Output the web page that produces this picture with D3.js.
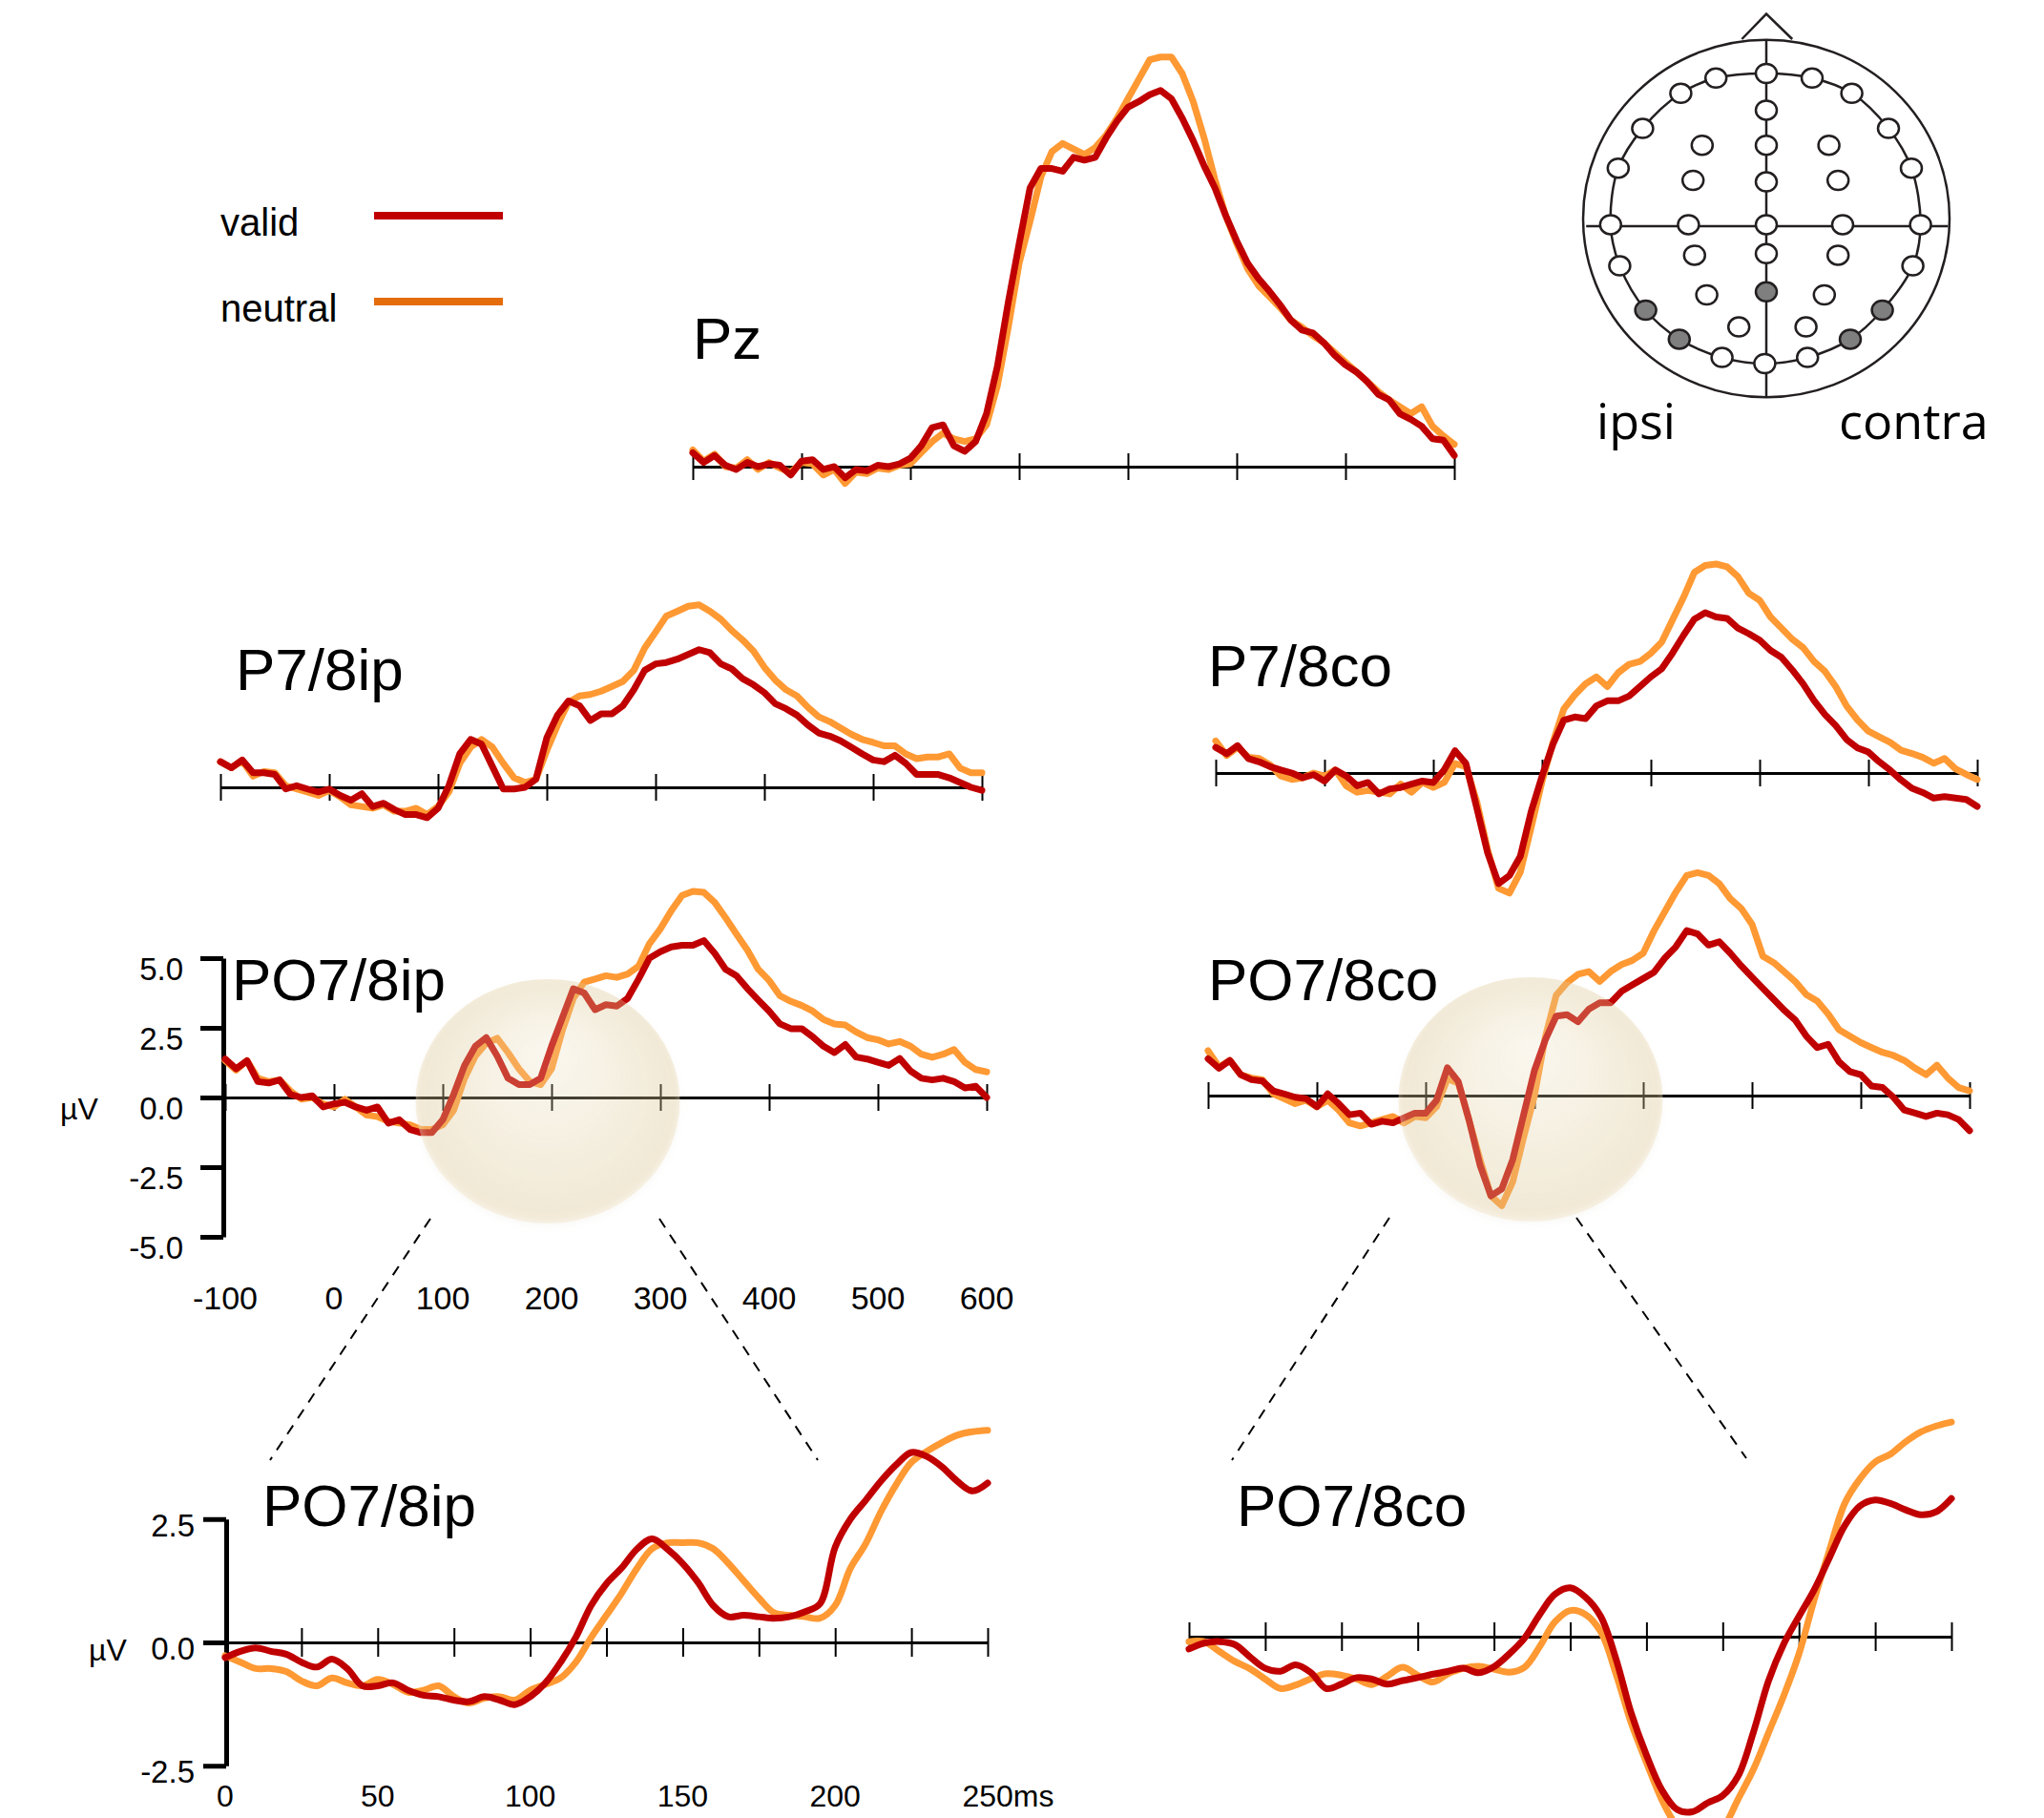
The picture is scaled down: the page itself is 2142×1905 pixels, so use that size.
<!DOCTYPE html>
<html>
<head>
<meta charset="utf-8">
<script src="https://cdn.jsdelivr.net/npm/d3@7"></script>
<style>
  html, body { margin: 0; padding: 0; background: #fff; }
  svg { display: block; font-family: 'Liberation Sans', Arial, Helvetica, sans-serif; }
</style>
</head>
<body>
<div id="chart"></div>
<script>
// sampling grids (ms)
const mainTimes = d3.range(-100, 601, 10);
const zoomTimes = d3.range(0, 251, 5);

const mainTicks = [-100, 0, 100, 200, 300, 400, 500, 600];
const mainTickLabels = ['-100', '0', '100', '200', '300', '400', '500', '600'];
const zoomTicks = [0, 25, 50, 75, 100, 125, 150, 175, 200, 225, 250];
const zoomLabelTicks = [0, 50, 100, 150, 200, 250];
const zoomTickLabels = ['0', '50', '100', '150', '200', '250ms'];
const mainYTicks = [5, 2.5, 0, -2.5, -5];
const mainYLabels = ['5.0', '2.5', '0.0', '-2.5', '-5.0'];
const zoomYTicks = [2.5, 0, -2.5];
const zoomYLabels = ['2.5', '0.0', '-2.5'];

const conditions = ['valid', 'neutral'];

// µV, -100..600 ms every 10 ms
const pzValid = [0.5, 0.15, 0.4, 0.05, -0.1, 0.15, 0, 0.1, 0.05, -0.3,
  0.2, 0.25, -0.1, 0, -0.4, -0.1, -0.15, 0.05, 0, 0.1,
  0.3, 0.75, 1.4, 1.5, 0.75, 0.55, 0.9, 1.9, 3.6, 5.9,
  8.0, 10.0, 10.7, 10.7, 10.6, 11.1, 11.0, 11.1, 11.8, 12.4,
  12.9, 13.1, 13.35, 13.5, 13.2, 12.5, 11.7, 10.8, 10.0, 9.0,
  8.1, 7.3, 6.75, 6.3, 5.8, 5.25, 4.9, 4.8, 4.45, 4.0,
  3.65, 3.4, 3.05, 2.6, 2.4, 1.9, 1.7, 1.45, 1.0, 0.95, 0.4];
const pzNeutral = [0.6, 0.2, 0.45, 0.0, -0.05, 0.25, -0.1, 0.15, -0.05, -0.2,
  0.15, 0.1, -0.3, -0.1, -0.6, -0.2, -0.25, -0.05, -0.1, 0.05,
  0.1, 0.5, 0.9, 1.2, 1.0, 0.9, 1.0, 1.5, 2.9, 5.0,
  7.3, 8.8, 10.4, 11.3, 11.6, 11.4, 11.2, 11.45, 11.9, 12.5,
  13.2, 13.9, 14.6, 14.7, 14.7, 14.1, 13.1, 11.8, 10.3, 9.0,
  8.0, 7.1, 6.5, 6.1, 5.7, 5.25, 5.0, 4.7, 4.45, 4.1,
  3.75, 3.4, 3.05, 2.7, 2.4, 2.15, 1.9, 2.15, 1.45, 1.1, 0.8];

const p7ipValid = [0.92, 0.7, 0.98, 0.52, 0.52, 0.46, -0.06, 0.06, -0.06, -0.17,
  -0.06, -0.29, -0.46, -0.23, -0.69, -0.57, -0.8, -0.98, -0.98, -1.09,
  -0.75, 0.06, 1.2, 1.72, 1.55, 0.75, -0.06, -0.06, 0, 0.29,
  1.78, 2.6, 3.1, 2.93, 2.4, 2.64, 2.64, 2.93, 3.5, 4.2,
  4.43, 4.48, 4.6, 4.77, 4.94, 4.83, 4.43, 4.25, 3.9, 3.68,
  3.4, 3.0, 2.82, 2.59, 2.24, 1.95, 1.84, 1.67, 1.44, 1.2,
  0.98, 0.92, 1.15, 0.86, 0.46, 0.46, 0.46, 0.34, 0.17, 0, -0.11];
const p7ipNeutral = [0.92, 0.7, 0.95, 0.4, 0.57, 0.52, 0.06, -0.06, -0.17, -0.29,
  -0.11, -0.34, -0.63, -0.69, -0.75, -0.63, -0.86, -0.86, -0.75, -0.98,
  -0.69, -0.17, 0.86, 1.44, 1.72, 1.44, 0.86, 0.34, 0.17, 0.29,
  1.32, 2.24, 3.05, 3.28, 3.33, 3.45, 3.62, 3.8, 4.2, 5.0,
  5.57, 6.15, 6.32, 6.5, 6.55, 6.32, 6.03, 5.63, 5.29, 4.89,
  4.31, 3.85, 3.5, 3.28, 2.87, 2.53, 2.36, 2.13, 1.9, 1.72,
  1.61, 1.49, 1.49, 1.2, 1.03, 1.09, 1.09, 1.2, 0.69, 0.52, 0.52];

const p7coValid = [0.92, 0.69, 0.98, 0.52, 0.4, 0.23, 0.11, 0, -0.17, -0.06,
  -0.29, 0.11, -0.11, -0.46, -0.34, -0.75, -0.57, -0.52, -0.4, -0.29,
  -0.34, 0.11, 0.8, 0.34, -1.26, -2.87, -3.97, -3.68, -2.99, -1.38,
  -0.11, 1.03, 1.9, 2.01, 1.95, 2.41, 2.59, 2.59, 2.76, 3.1,
  3.45, 3.74, 4.31, 4.94, 5.52, 5.75, 5.6, 5.55, 5.2, 5.0,
  4.77, 4.4, 4.15, 3.7, 3.2, 2.6, 2.1, 1.7, 1.2, 0.9,
  0.75, 0.4, 0.1, -0.25, -0.55, -0.7, -0.9, -0.85, -0.9, -0.95, -1.2];
const p7coNeutral = [1.15, 0.63, 0.92, 0.57, 0.52, 0.29, -0.11, -0.23, -0.17, 0,
  -0.11, 0.11, -0.46, -0.69, -0.63, -0.69, -0.75, -0.4, -0.69, -0.34,
  -0.52, -0.34, 0.34, 0.23, -1.03, -2.76, -4.14, -4.31, -3.56, -1.95,
  -0.3, 1.1, 2.3, 2.8, 3.2, 3.45, 3.1, 3.6, 3.9, 4.0,
  4.3, 4.7, 5.5, 6.3, 7.2, 7.45, 7.5, 7.4, 7.05, 6.45,
  6.2, 5.6, 5.2, 4.8, 4.5, 4.0, 3.65, 3.1, 2.4, 1.9,
  1.5, 1.3, 1.1, 0.82, 0.7, 0.56, 0.35, 0.52, 0.15, -0.05, -0.23];

const po7ipValid = [1.38, 1.03, 1.32, 0.57, 0.52, 0.63, 0.11, 0, 0.06, -0.34,
  -0.23, -0.17, -0.34, -0.46, -0.34, -0.92, -0.8, -1.15, -1.26, -1.26,
  -0.8, 0.11, 1.15, 1.84, 2.15, 1.49, 0.69, 0.46, 0.46, 0.69,
  1.84, 2.87, 3.9, 3.75, 3.15, 3.33, 3.28, 3.56, 4.25, 5.0,
  5.23, 5.4, 5.46, 5.46, 5.63, 5.17, 4.6, 4.37, 3.91, 3.5,
  3.1, 2.64, 2.47, 2.47, 2.18, 1.84, 1.61, 1.9, 1.45, 1.38,
  1.26, 1.15, 1.4, 0.95, 0.69, 0.63, 0.69, 0.57, 0.34, 0.4, 0];
const po7ipNeutral = [1.32, 0.98, 1.32, 0.69, 0.57, 0.63, 0.23, -0.06, 0, -0.23,
  -0.34, -0.06, -0.34, -0.63, -0.69, -0.86, -0.92, -0.98, -1.15, -1.15,
  -0.98, -0.46, 0.69, 1.49, 1.95, 2.13, 1.61, 1.03, 0.57, 0.46,
  1.03, 2.41, 3.56, 4.14, 4.25, 4.37, 4.31, 4.43, 4.71, 5.52,
  6.05, 6.7, 7.25, 7.4, 7.36, 7.0, 6.45, 5.86, 5.29, 4.6,
  4.2, 3.65, 3.45, 3.3, 3.1, 2.8, 2.64, 2.6, 2.35, 2.15,
  2.07, 1.92, 2.01, 1.84, 1.55, 1.44, 1.55, 1.72, 1.26, 1.0, 0.92];

const po7coValid = [1.32, 0.98, 1.26, 0.75, 0.57, 0.52, 0.17, 0.06, -0.06, -0.11,
  -0.4, 0.06, -0.29, -0.69, -0.63, -1.03, -0.92, -0.98, -0.8, -0.63,
  -0.63, -0.17, 1.0, 0.5, -0.9, -2.5, -3.6, -3.35, -2.3, -0.7,
  0.9, 2.0, 2.85, 2.9, 2.65, 3.1, 3.33, 3.33, 3.74, 3.97,
  4.2, 4.43, 4.94, 5.34, 5.92, 5.8, 5.4, 5.52, 5.11, 4.66,
  4.25, 3.85, 3.45, 3.05, 2.7, 2.13, 1.72, 1.84, 1.21, 0.86,
  0.75, 0.34, 0.29, -0.06, -0.52, -0.63, -0.75, -0.63, -0.69, -0.86, -1.26];
const po7coNeutral = [1.61, 1.03, 1.26, 0.75, 0.63, 0.57, 0.06, -0.11, -0.29, -0.17,
  -0.4, -0.17, -0.52, -0.98, -1.09, -0.98, -0.86, -0.75, -0.98, -0.75,
  -0.8, -0.4, 0.6, 0.45, -0.9, -2.3, -3.6, -3.95, -3.1, -1.5,
  0, 2.1, 3.6, 4.05, 4.35, 4.45, 4.1, 4.45, 4.7, 4.85,
  5.11, 5.92, 6.61, 7.3, 7.9, 8.0, 7.9, 7.6, 7.07, 6.72,
  6.15, 5.0, 4.77, 4.43, 4.08, 3.62, 3.39, 2.93, 2.36, 2.13,
  1.9, 1.72, 1.55, 1.44, 1.26, 0.98, 0.75, 1.09, 0.63, 0.29, 0.17];

// µV, 0..250 ms every 5 ms (enlarged views)
const zoomIpValid = [-0.31, -0.18, -0.11, -0.18, -0.24, -0.4, -0.5, -0.34, -0.53, -0.88,
  -0.88, -0.82, -0.97, -1.07, -1.1, -1.17, -1.2, -1.1, -1.17, -1.26,
  -1.1, -0.82, -0.4, 0.11, 0.75, 1.19, 1.51, 1.89, 2.1, 1.89,
  1.6, 1.22, 0.75, 0.52, 0.55, 0.52, 0.49, 0.52, 0.62, 0.78,
  1.93, 2.5, 2.88, 3.27, 3.6, 3.85, 3.77, 3.56, 3.27, 3.07, 3.23];
const zoomIpNeutral = [-0.27, -0.4, -0.53, -0.53, -0.59, -0.78, -0.88, -0.72, -0.82, -0.88,
  -0.75, -0.85, -1.01, -0.97, -0.88, -1.1, -1.23, -1.13, -1.1, -1.17,
  -0.97, -0.85, -0.72, -0.4, 0.1, 0.55, 1.0, 1.5, 1.9, 2.02,
  2.02, 2.02, 1.9, 1.6, 1.25, 0.9, 0.6, 0.55, 0.52, 0.49,
  0.75, 1.5, 2.0, 2.65, 3.2, 3.65, 3.87, 4.05, 4.2, 4.27, 4.3];
const zoomCoValid = [-0.25, -0.13, -0.1, -0.16, -0.41, -0.64, -0.7, -0.57, -0.73, -1.05,
  -0.96, -0.83, -0.86, -0.96, -0.89, -0.83, -0.76, -0.7, -0.64, -0.73,
  -0.61, -0.35, -0.03, 0.45, 0.86, 0.99, 0.8, 0.41, -0.45, -1.55,
  -2.4, -3.1, -3.5, -3.55, -3.37, -3.22, -2.83, -1.95, -0.9, -0.15,
  0.41, 0.95, 1.6, 2.25, 2.65, 2.77, 2.7, 2.57, 2.47, 2.53, 2.8];
const zoomCoNeutral = [-0.1, -0.1, -0.3, -0.5, -0.65, -0.86, -1.05, -0.98, -0.85, -0.75,
  -0.78, -0.86, -0.97, -0.8, -0.62, -0.78, -0.92, -0.75, -0.64, -0.6,
  -0.66, -0.72, -0.62, -0.2, 0.3, 0.53, 0.45, 0.1, -0.75, -1.75,
  -2.55, -3.3, -3.85, -4.15, -4.2, -3.9, -3.3, -2.7, -1.95, -1.2,
  -0.35, 0.75, 1.75, 2.7, 3.2, 3.54, 3.7, 3.95, 4.15, 4.27, 4.35];

// highlighted time window (ms) in the PO7/8 panels
const highlightWindow = [75, 318];

// electrode montage, x/y in units of the electrode ring radius; true = selected
const electrodes = [
  ['Fpz', 0, -0.95, false], ['Fp1', -0.33, -0.92, false], ['Fp2', 0.30, -0.92, false],
  ['AF7', -0.56, -0.82, false], ['AF8', 0.56, -0.82, false], ['AFz', 0, -0.71, false],
  ['F7', -0.81, -0.59, false], ['F8', 0.80, -0.59, false],
  ['F3', -0.42, -0.48, false], ['Fz', 0, -0.48, false], ['F4', 0.41, -0.48, false],
  ['FT7', -0.97, -0.33, false], ['FT8', 0.95, -0.33, false],
  ['FC3', -0.48, -0.25, false], ['FCz', 0, -0.24, false], ['FC4', 0.47, -0.25, false],
  ['T7', -1.02, 0.04, false], ['C3', -0.51, 0.04, false], ['Cz', 0, 0.04, false],
  ['C4', 0.50, 0.04, false], ['T8', 1.01, 0.04, false],
  ['TP7', -0.96, 0.31, false], ['CP3', -0.47, 0.24, false], ['CPz', 0, 0.23, false],
  ['CP4', 0.47, 0.24, false], ['TP8', 0.96, 0.31, false],
  ['P7', -0.79, 0.60, true], ['P3', -0.39, 0.50, false], ['Pz', 0, 0.48, true],
  ['P4', 0.38, 0.50, false], ['P8', 0.76, 0.60, true],
  ['PO7', -0.57, 0.79, true], ['PO3', -0.18, 0.71, false], ['PO4', 0.26, 0.71, false],
  ['PO8', 0.55, 0.79, true],
  ['O1', -0.29, 0.91, false], ['Oz', -0.01, 0.95, false], ['O2', 0.27, 0.91, false]
];
const ringOrder = ['Fpz', 'Fp2', 'AF8', 'F8', 'FT8', 'T8', 'TP8', 'P8', 'PO8', 'O2', 'Oz',
  'O1', 'PO7', 'P7', 'TP7', 'T7', 'FT7', 'F7', 'AF7', 'Fp1'];

const COLORS = {valid: '#c00000', neutral: '#ff9933'};
const LEGEND_COLORS = {valid: '#c00000', neutral: '#e46c0a'};

const W = 2142, H = 1905;
const svg = d3.select('#chart').append('svg').attr('width', W).attr('height', H);

const defs = svg.append('defs');
let grad = defs.append('radialGradient')
  .attr('id', 'glow')
  .attr('cx', '50%').attr('cy', '50%').attr('r', '52%')
  .attr('fx', '50%').attr('fy', '28%');
grad.append('stop').attr('offset', '0%').attr('stop-color', '#f0e2c0').attr('stop-opacity', 0.22);
grad.append('stop').attr('offset', '70%').attr('stop-color', '#e2cc98').attr('stop-opacity', 0.3);
grad.append('stop').attr('offset', '92%').attr('stop-color', '#ddc590').attr('stop-opacity', 0.33);
grad.append('stop').attr('offset', '100%').attr('stop-color', '#fffaf0').attr('stop-opacity', 0.55);
let shadow = defs.append('filter').attr('id', 'shadow')
  .attr('x', '-20%').attr('y', '-20%').attr('width', '140%').attr('height', '140%');
shadow.append('feDropShadow')
  .attr('dx', 0).attr('dy', 3).attr('stdDeviation', 3)
  .attr('flood-color', '#c8bca4').attr('flood-opacity', 0.2);

const panels = [
  {name: 'Pz', x0: 726, y0: 489, titleX: 726, titleY: 376, valid: pzValid, neutral: pzNeutral},
  {name: 'P7/8ip', x0: 231, y0: 825, titleX: 247, titleY: 723, valid: p7ipValid, neutral: p7ipNeutral},
  {name: 'P7/8co', x0: 1274, y0: 810, titleX: 1266, titleY: 719, valid: p7coValid, neutral: p7coNeutral},
  {name: 'PO7/8ip', x0: 236, y0: 1150, titleX: 243, titleY: 1048, valid: po7ipValid, neutral: po7ipNeutral,
    yAxis: true, xLabels: true, highlight: true},
  {name: 'PO7/8co', x0: 1266, y0: 1148, titleX: 1266, titleY: 1048, valid: po7coValid, neutral: po7coNeutral,
    highlight: true}
];
const zoomPanels = [
  {name: 'PO7/8ip', x0: 236, y0: 1721, titleX: 275, titleY: 1599, valid: zoomIpValid, neutral: zoomIpNeutral,
    yAxis: true, xLabels: true},
  {name: 'PO7/8co', x0: 1246, y0: 1715, titleX: 1296, titleY: 1599, valid: zoomCoValid, neutral: zoomCoNeutral}
];

/**
 * Horizontal axis with ticks crossing the line on both sides.
 */
function appendXAxis(g, x, y0, ticks, half) {
  let axis = g.append('g')
    .attr('transform', 'translate(0,' + y0 + ')')
    .call(d3.axisBottom(x).tickValues(ticks).tickSize(0).tickSizeOuter(0).tickFormat(''));
  axis.select('.domain').attr('stroke', '#000').attr('stroke-width', 3);
  axis.selectAll('.tick line')
    .attr('y1', -half).attr('y2', half)
    .attr('stroke', '#000').attr('stroke-width', 2);
  return axis;
}

/**
 * @param {object} p panel description
 * @param {boolean} zoomed enlarged 0-250 ms view
 */
function drawPanel(p, zoomed) {
  const times = zoomed ? zoomTimes : mainTimes;
  const width = zoomed ? 799 : 798;
  const pxPerUv = zoomed ? 51.7 : 29.2;
  const yt = zoomed ? zoomYTicks : mainYTicks;
  const yExt = d3.extent(yt);
  const x = d3.scaleLinear().domain(d3.extent(times)).range([p.x0, p.x0 + width]);
  const y = d3.scaleLinear().domain(yExt)
    .range([p.y0 - yExt[0] * pxPerUv, p.y0 - yExt[1] * pxPerUv]);
  const g = svg.append('g').attr('class', 'panel');

  appendXAxis(g, x, p.y0, zoomed ? zoomTicks : mainTicks, zoomed ? 15 : 14);

  if (p.xLabels) {
    const lt = zoomed ? zoomLabelTicks : mainTicks;
    const lb = zoomed ? zoomTickLabels : mainTickLabels;
    g.append('g').selectAll('text')
      .data(lt)
      .enter()
      .append('text')
      .attr('x', d => x(d))
      .attr('y', p.y0 + (zoomed ? 172 : 222))
      .attr('text-anchor', (d, i) => lb[i].endsWith('ms') ? 'start' : 'middle')
      .attr('dx', (d, i) => lb[i].endsWith('ms') ? '-0.83em' : 0)
      .attr('font-size', zoomed ? 32 : 34)
      .attr('fill', '#000')
      .text((d, i) => lb[i]);
  }

  if (p.yAxis) {
    const yl = zoomed ? zoomYLabels : mainYLabels;
    const ax = zoomed ? x(0) + 1 : x(-100) - 2;
    let yAxis = g.append('g')
      .attr('transform', 'translate(' + ax + ',0)')
      .call(d3.axisLeft(y).tickValues(yt).tickSize(24).tickSizeOuter(0)
        .tickPadding(zoomed ? 9 : 18)
        .tickFormat((d, i) => yl[i]));
    yAxis.select('.domain').attr('stroke', '#000').attr('stroke-width', 5);
    yAxis.selectAll('.tick line').attr('stroke', '#000').attr('stroke-width', 5);
    yAxis.selectAll('.tick text')
      .attr('font-size', 33)
      .attr('font-family', "'Liberation Sans', Arial, sans-serif")
      .attr('fill', '#000')
      .attr('dy', zoomed ? '0.53em' : '0.67em');
    g.append('text')
      .attr('x', zoomed ? 93 : 63)
      .attr('y', zoomed ? p.y0 + 19 : p.y0 + 23)
      .attr('font-size', 32)
      .attr('fill', '#000')
      .text('\u00b5V');
  }

  const line = d3.line()
    .x((d, i) => x(times[i]))
    .y(d => y(d))
    .curve(zoomed ? d3.curveCatmullRom.alpha(0.5) : d3.curveLinear);

  // neutral underneath, valid on top
  ['neutral', 'valid'].forEach(function (c) {
    g.append('path')
      .datum(p[c])
      .attr('d', line)
      .attr('fill', 'none')
      .attr('stroke', COLORS[c])
      .attr('stroke-width', 7)
      .attr('stroke-linejoin', 'round')
      .attr('stroke-linecap', 'round');
  });

  g.append('text')
    .attr('x', p.titleX)
    .attr('y', p.titleY)
    .attr('font-size', 62)
    .attr('fill', '#000')
    .text(p.name);

  if (p.highlight) {
    const cx = (x(highlightWindow[0]) + x(highlightWindow[1])) / 2;
    const rx = (x(highlightWindow[1]) - x(highlightWindow[0])) / 2;
    g.append('ellipse')
      .attr('cx', cx)
      .attr('cy', y(0) + 4)
      .attr('rx', rx)
      .attr('ry', rx * 0.925)
      .attr('fill', 'url(#glow)')
      .attr('filter', 'url(#shadow)');
  }
}

panels.forEach(p => drawPanel(p, false));
zoomPanels.forEach(p => drawPanel(p, true));

// dashed connectors from the highlighted window to the enlarged views
const connectors = [
  [[451, 1277], [283, 1530]], [[691, 1277], [857, 1530]],
  [[1456, 1276], [1291, 1530]], [[1652, 1276], [1830, 1528]]
];
svg.append('g').selectAll('line')
  .data(connectors)
  .enter()
  .append('line')
  .attr('x1', d => d[0][0]).attr('y1', d => d[0][1])
  .attr('x2', d => d[1][0]).attr('y2', d => d[1][1])
  .attr('stroke', '#000')
  .attr('stroke-width', 2)
  .attr('stroke-dasharray', '11,9');

// legend
const legend = svg.append('g').attr('class', 'legend');
conditions.forEach(function (c, i) {
  legend.append('text')
    .attr('x', 231)
    .attr('y', 247 + i * 90)
    .attr('font-size', 40)
    .attr('fill', '#000')
    .text(c);
  legend.append('line')
    .attr('x1', 392).attr('x2', 527)
    .attr('y1', 226 + i * 90).attr('y2', 226 + i * 90)
    .attr('stroke', LEGEND_COLORS[c])
    .attr('stroke-width', 8);
});

// head map
const head = {cx: 1851, cy: 229, r: 160};
const hx = d3.scaleLinear().domain([0, 1]).range([head.cx, head.cx + head.r]);
const hy = d3.scaleLinear().domain([0, 1]).range([head.cy, head.cy + head.r]);
const hg = svg.append('g').attr('class', 'head')
  .attr('stroke', '#231f20').attr('stroke-width', 2.5);

hg.append('path')
  .attr('d', 'M' + hx(-0.16) + ',' + hy(-1.175) + 'L' + hx(0) + ',' + hy(-1.34) + 'L' + hx(0.17) + ',' + hy(-1.175))
  .attr('fill', '#fff');
hg.append('ellipse')
  .attr('cx', hx(0)).attr('cy', hy(0))
  .attr('rx', hx(1.2) - hx(0)).attr('ry', hy(1.17) - hy(0))
  .attr('fill', 'none');
hg.append('line')
  .attr('x1', hx(0)).attr('x2', hx(0))
  .attr('y1', hy(-1.17)).attr('y2', hy(1.17));
hg.append('line')
  .attr('x1', hx(-1.18)).attr('x2', hx(1.19))
  .attr('y1', hy(0.05)).attr('y2', hy(0.05));

const byName = new Map(electrodes.map(e => [e[0], e]));
hg.append('path')
  .datum(ringOrder.map(n => byName.get(n)))
  .attr('d', d3.line().x(e => hx(e[1])).y(e => hy(e[2])).curve(d3.curveCatmullRomClosed))
  .attr('fill', 'none');

hg.append('g').selectAll('ellipse')
  .data(electrodes)
  .enter()
  .append('ellipse')
  .attr('cx', e => hx(e[1]))
  .attr('cy', e => hy(e[2]))
  .attr('rx', 11)
  .attr('ry', 10)
  .attr('fill', e => e[3] ? '#7f7f7f' : '#fff');

svg.append('g')
  .attr('font-family', "'Open Sans', sans-serif")
  .attr('font-size', 52)
  .attr('fill', '#000')
  .selectAll('text')
  .data([['ipsi', 1673], ['contra', 1927]])
  .enter()
  .append('text')
  .attr('x', d => d[1])
  .attr('y', 460)
  .text(d => d[0]);
</script>
</body>
</html>
